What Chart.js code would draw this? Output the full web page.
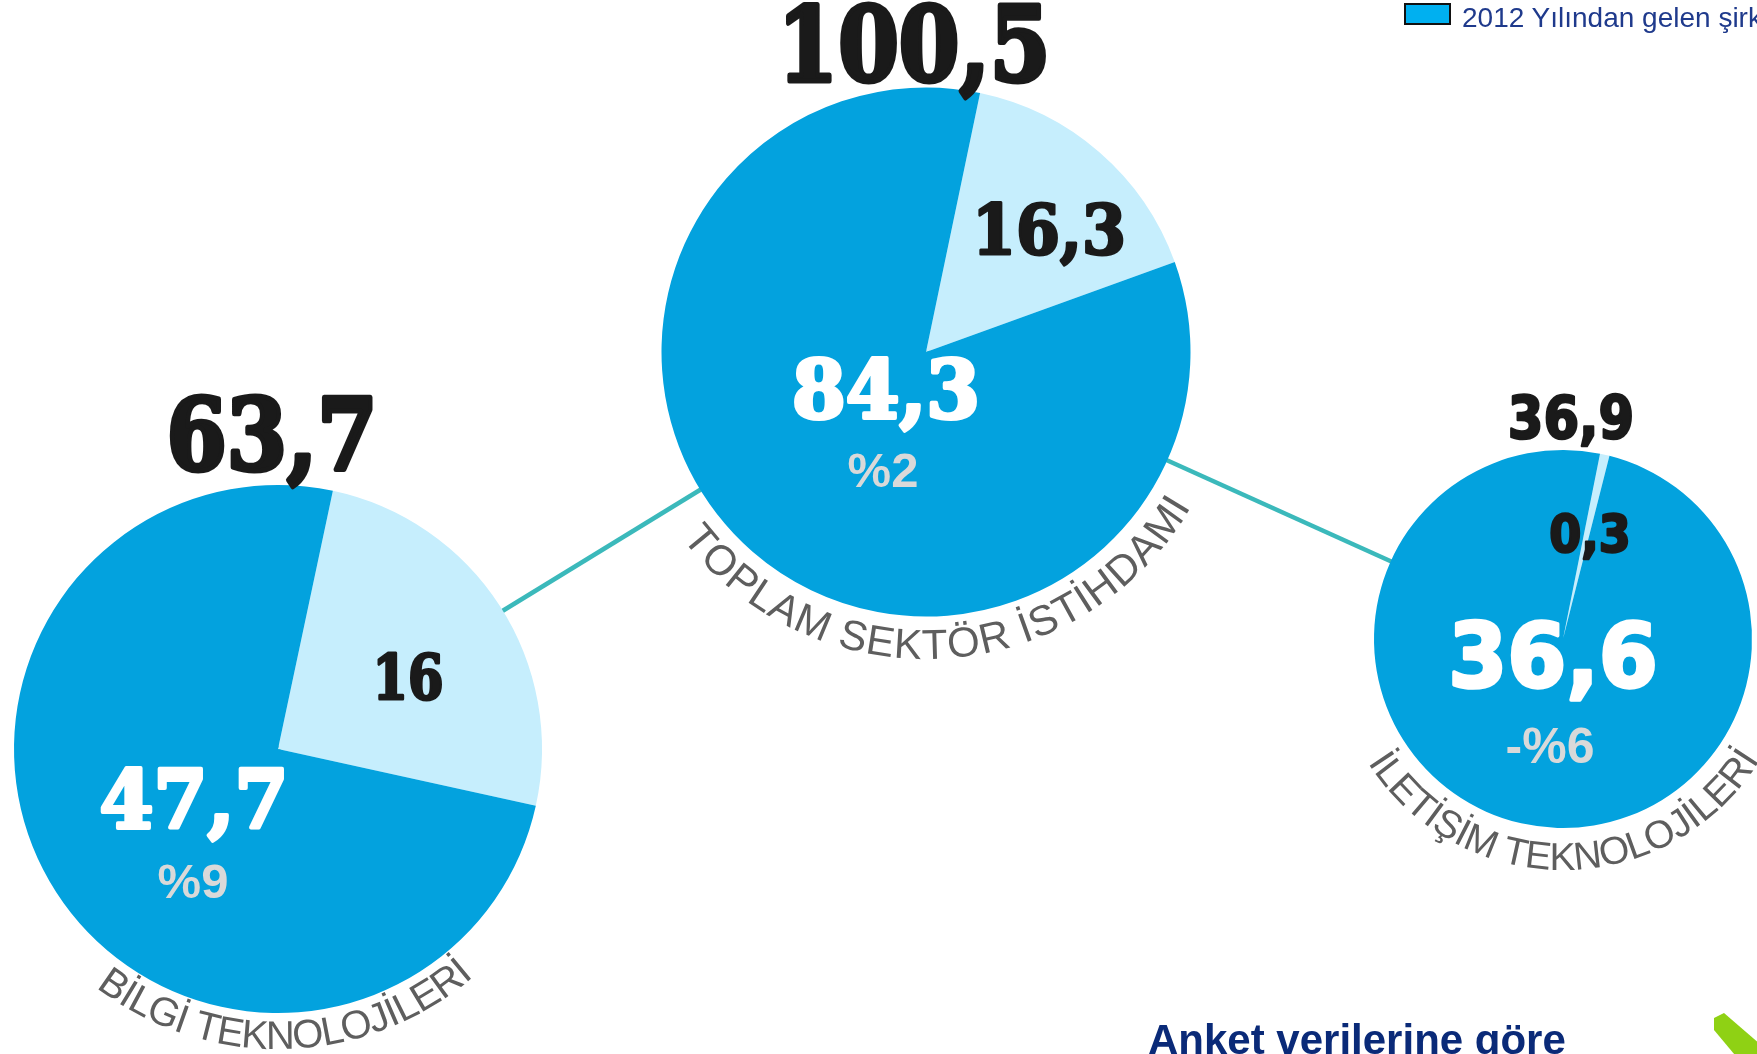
<!DOCTYPE html>
<html>
<head>
<meta charset="utf-8">
<script src="https://cdn.jsdelivr.net/npm/chart.js@4.4.1/dist/chart.umd.min.js"></script>
<style>
    html, body {
        margin: 0;
        padding: 0;
        overflow: hidden;
        background: #ffffff;
    }
    #page {
        position: relative;
        width: 1757px;
        height: 1054px;
        overflow: hidden;
    }
    #page canvas {
        position: absolute;
    }
    #legend {
        position: absolute;
        left: 1404px;
        top: 3px;
        white-space: nowrap;
        font: 28px "Liberation Sans", Arial, sans-serif;
        line-height: 28px;
        color: #1f3a8c;
    }
    #legend .box {
        position: absolute;
        left: 0;
        top: 0;
        width: 43px;
        height: 18px;
        background: #00b0f0;
        border: 2px solid #111;
    }
    #legend .txt {
        position: absolute;
        left: 58px;
        top: 1px;
    }
    #note {
        position: absolute;
        left: 1148px;
        top: 1019px;
        white-space: nowrap;
        font: bold 42px "Liberation Sans", Arial, sans-serif;
        line-height: 42px;
        color: #0a2a78;
    }
</style>
</head>
<body>
<div id="page">
    <canvas id="bg" width="1757" height="1054" style="left:0;top:0;z-index:0"></canvas>
    <div id="legend"><span class="box"></span><span class="txt">2012 Yılından gelen şirketler</span></div>
    <div id="note">Anket verilerine göre</div>
</div>

<script>
// data
const categories = ["BİLGİ TEKNOLOJİLERİ", "TOPLAM SEKTÖR İSTİHDAMI", "İLETİŞİM TEKNOLOJİLERİ"];
const totals = [63.7, 100.5, 36.9];
const from2012 = [47.7, 84.3, 36.6];
const newCompanies = [16, 16.3, 0.3];
const changePct = [9, 2, -6];

const DARK = "#03a2de";
const LIGHT = "#c6eefd";
const INK = "#1a1a1a";
const PCT_GREY = "#d9d9d9";
const ARC_GREY = "#5e5e5e";

// where each pie sits on the page (center, radius) and how its labels are placed
const layout = [
    {
        cx: 278, cy: 748.5, r: 264, half: 370, rotation: 12,
        serif: true,
        total: { dx: -6, dy: -279, size: 100, w: 216, bold: 5 },
        newer: { dx: 130, dy: -50.5, size: 62, w: 74, bold: 3 },
        old: { dx: -84, dy: 78.5, size: 81, w: 193, bold: 4 },
        pct: { dx: -85, dy: 148.5, size: 49 },
        arc: { R: 300, mid: 88.3, span: 78, size: 40 }
    },
    {
        cx: 926, cy: 351.5, r: 264.5, half: 370, rotation: 11.8,
        serif: true,
        total: { dx: -12, dy: -271.5, size: 103, w: 278, bold: 5 },
        newer: { dx: 123, dy: -98.5, size: 70, w: 157, bold: 3 },
        old: { dx: -40, dy: 65.5, size: 81, w: 192, bold: 4 },
        pct: { dx: -43, dy: 134.5, size: 49 },
        arc: { R: 307, mid: 86.5, span: 112.5, size: 42 }
    },
    {
        cx: 1563, cy: 639, r: 189, half: 280, rotation: 11.3,
        serif: false,
        total: { dx: 8, dy: -201, size: 59, w: 129, bold: 2.5 },
        newer: { dx: 27, dy: -87, size: 51, w: 84, bold: 2.5 },
        old: { dx: -10, dy: 48, size: 89, w: 213, bold: 3.5 },
        pct: { dx: -13, dy: 124, size: 50 },
        arc: { R: 231, mid: 89.6, span: 116, size: 39 }
    }
];

function fmt(v) {
    return String(v).replace(".", ",");
}

function fmtPct(v) {
    return (v < 0 ? "-" : "") + "%" + Math.abs(v);
}

function heavyFont(serif, size) {
    return "bold " + size + "px " + (serif ? "\"DejaVu Serif\"" : "\"DejaVu Sans\"");
}

function drawLabel(ctx, text, x, y, font, color, w, bold) {
    ctx.save();
    ctx.font = font;
    ctx.fillStyle = color;
    ctx.strokeStyle = color;
    ctx.lineJoin = "round";
    ctx.textAlign = "center";
    ctx.textBaseline = "alphabetic";
    const lw = bold || 0;
    let sx = 1;
    if (w) {
        sx = (w - lw) / ctx.measureText(text).width;
    }
    ctx.translate(x, y);
    ctx.scale(sx, 1);
    ctx.fillText(text, 0, 0);
    if (lw) {
        ctx.lineWidth = lw;
        ctx.strokeText(text, 0, 0);
    }
    ctx.restore();
}

// letters along the lower arc, tops facing the center
function drawArcText(ctx, text, cx, cy, R, midDeg, spanDeg, font, color) {
    ctx.save();
    ctx.font = font;
    ctx.fillStyle = color;
    ctx.textAlign = "center";
    ctx.textBaseline = "alphabetic";
    const chars = [...text];
    const widths = chars.map(ch => ctx.measureText(ch).width);
    const total = widths.reduce((a, b) => a + b, 0);
    const span = spanDeg * Math.PI / 180;
    let a = midDeg * Math.PI / 180 + span / 2;
    chars.forEach((ch, i) => {
        const da = widths[i] / total * span;
        const ang = a - da / 2;
        ctx.save();
        ctx.translate(cx + R * Math.cos(ang), cy + R * Math.sin(ang));
        ctx.rotate(ang - Math.PI / 2);
        ctx.fillText(ch, 0, 0);
        ctx.restore();
        a -= da;
    });
    ctx.restore();
}

const pieLabels = {
    id: "pieLabels",
    afterDraw(chart) {
        const i = chart.options.plugins.pieLabels.index;
        const L = layout[i];
        const arc = chart.getDatasetMeta(0).data[0];
        const cx = arc.x;
        const cy = arc.y;
        const ctx = chart.ctx;

        drawLabel(ctx, fmt(totals[i]), cx + L.total.dx, cy + L.total.dy,
            heavyFont(L.serif, L.total.size), INK, L.total.w, L.total.bold);
        drawLabel(ctx, fmt(newCompanies[i]), cx + L.newer.dx, cy + L.newer.dy,
            heavyFont(L.serif, L.newer.size), INK, L.newer.w, L.newer.bold);
        drawLabel(ctx, fmt(from2012[i]), cx + L.old.dx, cy + L.old.dy,
            heavyFont(L.serif, L.old.size), "#ffffff", L.old.w, L.old.bold);
        drawLabel(ctx, fmtPct(changePct[i]), cx + L.pct.dx, cy + L.pct.dy,
            "bold " + L.pct.size + "px \"Liberation Sans\"", PCT_GREY);

        drawArcText(ctx, categories[i], cx, cy, L.arc.R, L.arc.mid, L.arc.span,
            L.arc.size + "px \"Liberation Sans\"", ARC_GREY);
    }
};

const page = document.getElementById("page");
const charts = [];

layout.forEach((L, i) => {
    const canvas = document.createElement("canvas");
    canvas.width = L.half * 2;
    canvas.height = L.half * 2;
    canvas.style.left = (L.cx - L.half) + "px";
    canvas.style.top = (L.cy - L.half) + "px";
    canvas.style.zIndex = 1;
    page.appendChild(canvas);

    const pad = L.half - L.r;

    charts.push(new Chart(canvas, {
        type: "pie",
        data: {
            labels: ["Yeni", "2012 Yılından gelen şirketler"],
            datasets: [
                {
                    data: [newCompanies[i], from2012[i]],
                    backgroundColor: [LIGHT, DARK],
                    borderWidth: 0
                }
            ]
        },
        options: {
            responsive: false,
            animation: false,
            events: [],
            rotation: L.rotation,
            layout: {
                padding: pad
            },
            plugins: {
                legend: {
                    display: false
                },
                tooltip: {
                    enabled: false
                },
                pieLabels: {
                    index: i
                }
            }
        },
        plugins: [pieLabels]
    }));
});

// connectors between pie centers, and the green corner mark
const bg = document.getElementById("bg").getContext("2d");
const centers = charts.map(c => {
    const arc = c.getDatasetMeta(0).data[0];
    return {
        x: parseFloat(c.canvas.style.left) + arc.x,
        y: parseFloat(c.canvas.style.top) + arc.y
    };
});

bg.strokeStyle = "#3bb9bb";
bg.lineWidth = 4.5;
for (let k = 0; k < centers.length - 1; k++) {
    bg.beginPath();
    bg.moveTo(centers[k].x, centers[k].y);
    bg.lineTo(centers[k + 1].x, centers[k + 1].y);
    bg.stroke();
}

bg.fillStyle = "#8fd114";
bg.beginPath();
bg.moveTo(1714, 1018);
bg.lineTo(1724, 1013);
bg.lineTo(1790, 1070);
bg.lineTo(1760, 1085);
bg.lineTo(1714, 1030);
bg.closePath();
bg.fill();
</script>
</body>
</html>
